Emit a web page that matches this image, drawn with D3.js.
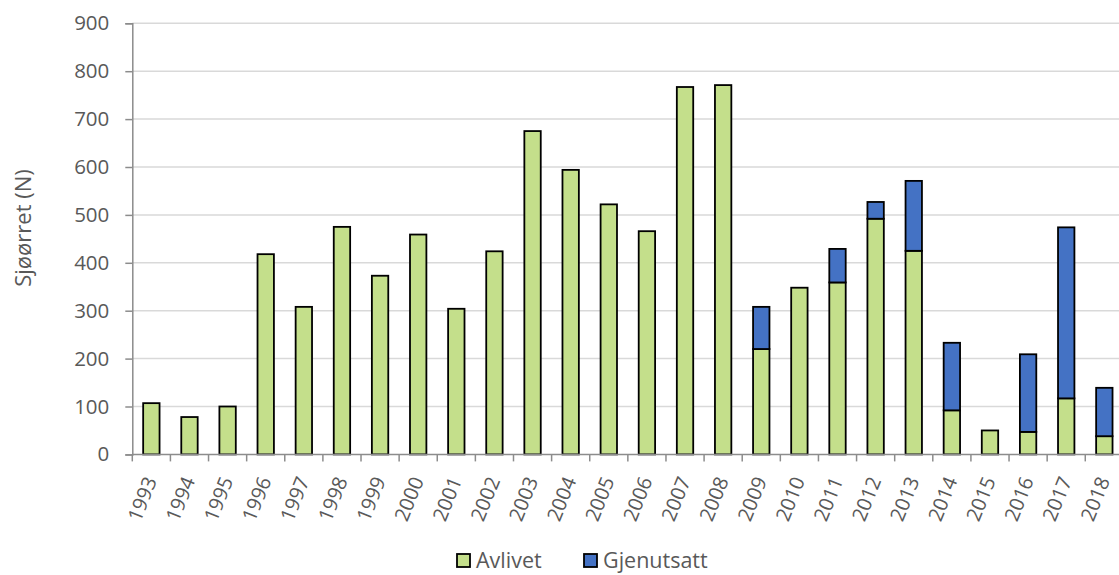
<!DOCTYPE html>
<html><head><meta charset="utf-8">
<script src="https://cdn.jsdelivr.net/npm/d3@7"></script>
<style>
html,body{margin:0;padding:0;background:#fff;}
svg{display:block;font-family:"Open Sans",sans-serif;}
</style></head>
<body><svg id="c" width="1119" height="575"></svg>
<script>
const years = ["1993","1994","1995","1996","1997","1998","1999","2000","2001","2002","2003","2004","2005","2006","2007","2008","2009","2010","2011","2012","2013","2014","2015","2016","2017","2018"];
const avlivet = [107,78,100,418,308,475,373,459,304,424,675,594,522,466,767,771,220,348,359,492,425,92,50,47,117,38];
const gjenutsatt = [0,0,0,0,0,0,0,0,0,0,0,0,0,0,0,0,88,0,70,35,146,141,0,162,357,101];
const yTicks = [0,100,200,300,400,500,600,700,800,900];
const seriesNames = ["Avlivet","Gjenutsatt"];
const colors = ["#C4DF8B","#4472C4"];

const svg = d3.select("#c");
const mLeft = 132.3, mRight = 1123.4, mTop = 23.3, mBottom = 454.4;
const x = d3.scaleBand().domain(years).range([mLeft, mRight]).padding(0);
const y = d3.scaleLinear().domain([0, 900]).range([mBottom, mTop]);

// gridlines
svg.append("g").selectAll("line").data(yTicks.filter(d => d > 0)).join("line")
  .attr("x1", mLeft).attr("x2", mRight)
  .attr("y1", d => y(d)).attr("y2", d => y(d))
  .attr("stroke", "#D9D9D9").attr("stroke-width", 1.5);

// stacked data
const table = years.map((yr, i) => ({year: yr, Avlivet: avlivet[i], Gjenutsatt: gjenutsatt[i]}));
const stack = d3.stack().keys(seriesNames)(table);
const bw = x.bandwidth() * 0.43;

stack.forEach((s, si) => {
  svg.append("g").selectAll("rect").data(s.filter(d => d[1] - d[0] > 0)).join("rect")
    .attr("x", d => x(d.data.year) + (x.bandwidth() - bw) / 2)
    .attr("width", bw)
    .attr("y", d => y(d[1]))
    .attr("height", d => y(d[0]) - y(d[1]))
    .attr("fill", colors[si])
    .attr("stroke", "#000").attr("stroke-width", 1.8);
});

// y axis
const ya = svg.append("g").attr("transform", `translate(${mLeft},0)`)
  .call(d3.axisLeft(y).tickValues(yTicks).tickSize(7).tickPadding(16));
ya.select(".domain").attr("stroke", "#8C8C8C").attr("stroke-width", 1.5);
ya.selectAll(".tick line").attr("stroke", "#8C8C8C").attr("stroke-width", 1.5);
ya.selectAll(".tick text").attr("fill", "#595959").style("font-size", "20.5px").style("font-family", "'Open Sans',sans-serif");

// x axis
const xa = svg.append("g").attr("transform", `translate(0,${mBottom})`);
xa.append("line").attr("x1", mLeft).attr("x2", mRight).attr("y1", 0).attr("y2", 0)
  .attr("stroke", "#8C8C8C").attr("stroke-width", 1.5);
const bounds = years.map(d => x(d)).concat([mRight]);
xa.selectAll("line.tk").data(bounds).join("line").attr("class", "tk")
  .attr("x1", d => d).attr("x2", d => d).attr("y1", 0).attr("y2", 7)
  .attr("stroke", "#8C8C8C").attr("stroke-width", 1.5);
xa.selectAll("text").data(years).join("text")
  .attr("transform", d => `translate(${x(d) + x.bandwidth() / 2 + 6},${26}) rotate(-68)`)
  .attr("text-anchor", "end")
  .attr("fill", "#595959").style("font-size", "20px")
  .text(d => d);

// y label
svg.append("text")
  .attr("transform", "translate(31,228) rotate(-90)")
  .attr("text-anchor", "middle")
  .attr("fill", "#595959").style("font-size", "22px")
  .text("Sjøørret (N)");

// legend
const lg = svg.append("g");
const legX = [457, 584];
seriesNames.forEach((n, i) => {
  lg.append("rect").attr("x", legX[i]).attr("y", 554).attr("width", 13).attr("height", 13)
    .attr("fill", colors[i]).attr("stroke", "#000").attr("stroke-width", 1.8);
  lg.append("text").attr("x", legX[i] + 19).attr("y", 568)
    .attr("fill", "#595959").style("font-size", "21.5px").text(n);
});
</script>
</body></html>
